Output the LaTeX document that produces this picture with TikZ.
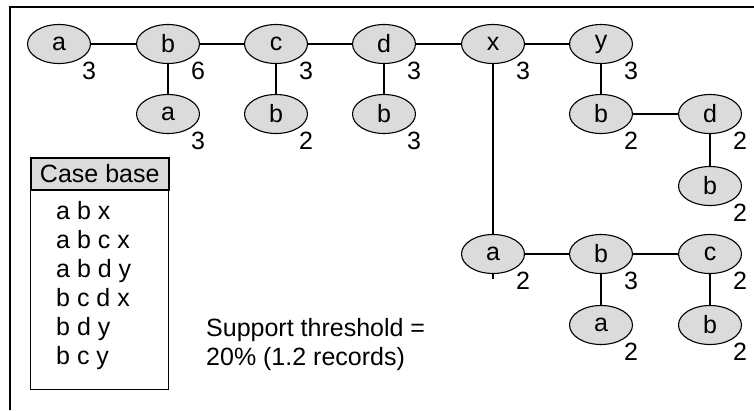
\documentclass[tikz,border=0pt]{standalone}
\usepackage{fontspec}
\setmainfont{Liberation Sans}
\usetikzlibrary{shapes.geometric}
\begin{document}
\begin{tikzpicture}[x=1pt,y=-1pt,
  item/.style={ellipse,draw=black,line width=1.1pt,fill=black!14,minimum width=63pt,minimum height=39pt,inner sep=0pt,font=\fontsize{25}{30}\selectfont},
  cnt/.style={inner sep=0pt,font=\fontsize{25}{30}\selectfont},
  link/.style={line width=1.3pt},
  txt/.style={inner sep=0pt,anchor=base west,font=\fontsize{25}{30}\selectfont},
  frameline/.style={line width=2pt}]
\useasboundingbox (0,0) rectangle (754,410);
% frame
\coordinate (tl) at (10,7);
\coordinate (tr) at (754,7);
\coordinate (bl) at (10,410);
\draw[frameline] (tr) -- (tl) -- (bl);
% tree nodes with counts
\foreach \n/\l/\px/\py/\c in {a1/a/59/44/3, b1/b/168/44/6, c1/c/276/44/3, d1/d/384/44/3,
  x1/x/493/44/3, y1/y/601/44/3, a2/a/168/114/3, b2/b/276/114/2, b3/b/384/114/3,
  b4/b/601/114/2, d2/d/710/114/2, b5/b/710/186/2, a3/a/493/254/2, b6/b/601/254/3,
  c2/c/710/254/2, a4/a/601/325/2, b7/b/710/325/2}{
  \node[item] (\n) at (\px,\py) {\l};
  \node[cnt] (k\n) at ([shift={(30,27)}]\n.center) {\c};
}
% connectors
\foreach \s/\t in {a1/b1, b1/c1, c1/d1, d1/x1, x1/y1, b1/a2, c1/b2, d1/b3, y1/b4,
  b4/d2, d2/b5, x1/a3, a3/b6, b6/c2, b6/a4, c2/b7}{
  \draw[link] (\s) -- (\t);
}
\coordinate (a3s) at ([shift={(0,5)}]a3.south);
\draw[link] (a3) -- (a3s);
% case base
\node[draw=black,line width=1.5pt,fill=black!14,minimum width=138pt,minimum height=32pt,inner sep=0pt,anchor=north west,font=\fontsize{25}{30}\selectfont] (cbh) at (30,157) {Case base};
\node[draw=black,line width=1.2pt,minimum width=138pt,minimum height=200pt,inner sep=0pt,anchor=north west] (cbb) at (30,189) {};
\node[txt] (cb1) at (56,219) {a b x};
\node[txt] (cb2) at (56,248) {a b c x};
\node[txt] (cb3) at (56,277) {a b d y};
\node[txt] (cb4) at (56,306) {b c d x};
\node[txt] (cb5) at (56,335) {b d y};
\node[txt] (cb6) at (56,364) {b c y};
% support
\node[txt] (sup1) at (206,336) {Support threshold =};
\node[txt] (sup2) at (206,365) {20\% (1.2 records)};
\end{tikzpicture}
\end{document}
